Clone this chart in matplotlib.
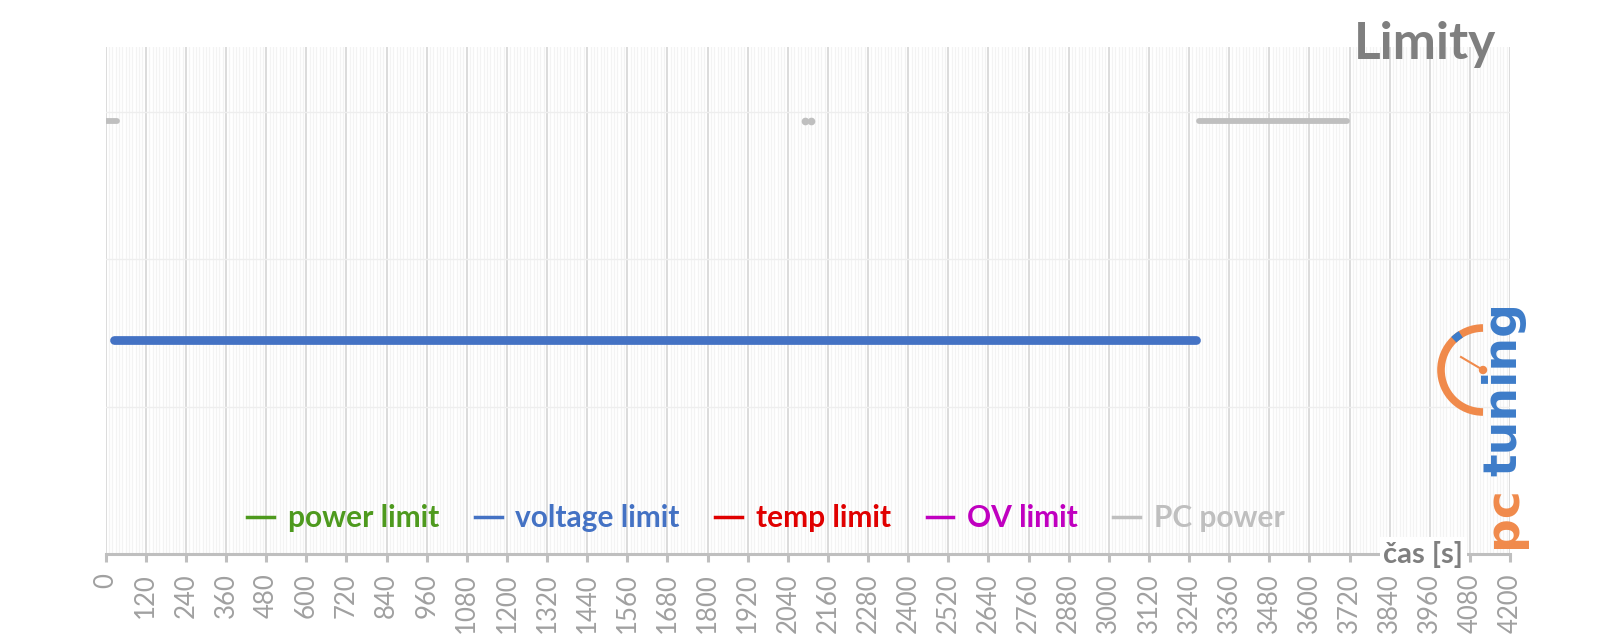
import matplotlib
matplotlib.use("Agg")
import matplotlib.pyplot as plt
from matplotlib.lines import Line2D
from matplotlib.patches import Arc, Circle
import numpy as np

plt.rcParams['font.family'] = ['Lato', 'DejaVu Sans']

# ---- data ----
series_names = ["power limit", "voltage limit", "temp limit", "OV limit", "PC power"]
series_colors = ["#4E9A1E", "#4472C4", "#E00000", "#C000C0", "#BFBFBF"]

# voltage limit: continuous segment (time start, end) at level
voltage_segments = [(25, 3262)]
voltage_level = 1.45

# PC power: segments and isolated points at level
pcpower_segments = [(0, 34), (3270, 3712)]
pcpower_points = [2091, 2110]
pcpower_level = 2.94

x_ticks = list(range(0, 4201, 120))
x_max = 4200
y_max = 3.44
y_grid = [1, 2, 3]

title_text = "Limity"
xlabel_text = "čas [s]"

# ---- figure ----
W, H = 1600, 637
fig = plt.figure(figsize=(W / 100, H / 100), dpi=100)
ax = fig.add_axes([105.7 / W, (H - 554) / H, (1510 - 105.7) / W, (554 - 47) / H])

ax.set_xlim(0, x_max)
ax.set_ylim(0, y_max)

# grid
for x in range(0, x_max + 1, 10):
    if x % 120 == 0:
        continue
    ax.axvline(x, color="#F3F3F3", lw=0.9, zorder=0)
for x in x_ticks:
    ax.axvline(x, color="#D9D9D9", lw=1.3, zorder=0.5)
for y in y_grid:
    ax.axhline(y, color="#EEEEEE", lw=1.0, zorder=0.6)

# series
for (a, b) in voltage_segments:
    ax.plot([a, b], [voltage_level, voltage_level], color=series_colors[1], lw=6.3,
            solid_capstyle="round", zorder=3)
for (a, b) in pcpower_segments:
    ax.plot([a, b], [pcpower_level, pcpower_level], color=series_colors[4], lw=4.2,
            solid_capstyle="round", zorder=3)
ax.plot(pcpower_points, [pcpower_level] * len(pcpower_points), 'o', color=series_colors[4],
        ms=4.5, zorder=3, ls="none")

# axes styling
for s in ["top", "right", "left"]:
    ax.spines[s].set_visible(False)
ax.spines["bottom"].set_color("#BFBFBF")
ax.spines["bottom"].set_linewidth(2.2)
ax.set_yticks([])
ax.set_xticks(x_ticks)
ax.set_xticklabels([str(t) for t in x_ticks], rotation=90, color="#A0A0A0", fontsize=18.5)
ax.tick_params(axis="x", direction="out", length=6, width=2.2, color="#BFBFBF", pad=8)

# axis label
ax.text(3940, 0, xlabel_text, ha="center", va="center", fontsize=21, fontweight="bold",
        color="#7F7F7F", zorder=5,
        bbox=dict(boxstyle="square,pad=0.12", fc="white", ec="none"))

# title
fig.text(1496 / W, 1 - 44 / H, title_text, ha="right", va="center", fontsize=37,
         fontweight="bold", color="#7F7F7F")

# legend
handles = [Line2D([0], [0], color=c, lw=2.5) for c in series_colors]
leg = fig.legend(handles, series_names, loc="center", bbox_to_anchor=(766 / W, 1 - 518 / H),
                 ncol=5, frameon=False, handlelength=0.9, handletextpad=0.45,
                 columnspacing=1.2, prop={"size": 21.5, "weight": "bold"})
for txt, c in zip(leg.get_texts(), series_colors):
    txt.set_color(c)

# logo (pctuning)
lx0, ly_top, lw_, lh_ = 1420, 280, 120, 280
lax = fig.add_axes([lx0 / W, (H - (ly_top + lh_)) / H, lw_ / W, lh_ / H])
lax.set_xlim(0, lw_)
lax.set_ylim(0, lh_)
lax.axis("off")
orange = "#F08A4B"
blue = "#3D7CC9"
cx, cy, r = 63, 190, 42
lax.add_patch(Arc((cx, cy), 2 * r, 2 * r, theta1=90, theta2=270, color=orange, lw=5.5))
lax.add_patch(Arc((cx, cy), 2 * r, 2 * r, theta1=122, theta2=134, color=blue, lw=5.5))
lax.plot([cx - 22, cx], [cy + 13, cy], color=orange, lw=1.5)
lax.add_patch(Circle((cx, cy), 3.5, color=orange))
lax.text(84, 12, "pc", rotation=90, ha="center", va="bottom", fontsize=34,
         fontweight="bold", color=orange, family="DejaVu Sans")
lax.text(84, 84, "tuning", rotation=90, ha="center", va="bottom", fontsize=34,
         fontweight="bold", color=blue, family="DejaVu Sans")

fig.savefig("out.png", dpi=100, facecolor="white")
